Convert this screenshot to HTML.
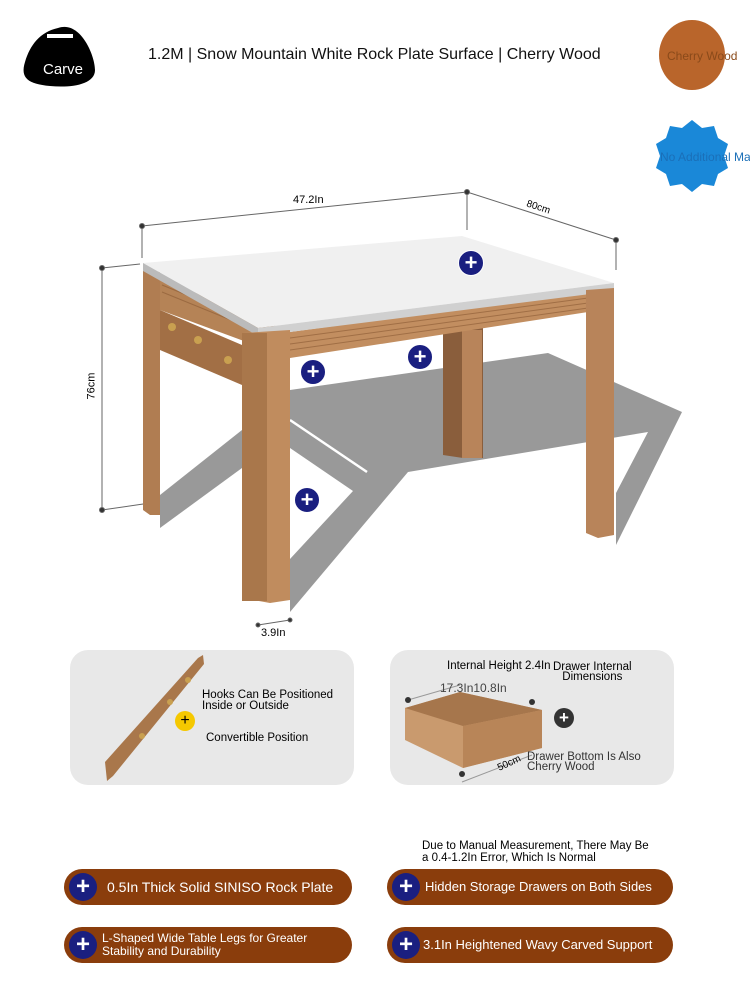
<!DOCTYPE html>
<html><head><meta charset="utf-8"><style>
body{margin:0;width:750px;height:1000px;background:#fff;position:relative;overflow:hidden;font-family:"Liberation Sans",sans-serif}
.t{position:absolute;white-space:nowrap}
.card{position:absolute;background:#e8e8e8;border-radius:18px}
.pill{position:absolute;height:36px;border-radius:18px;background:#8a3d0c;color:#fff}
.pill .p{position:absolute;left:5px;top:4px;width:28px;height:28px;border-radius:50%;background:#1a1f80;color:#fff;font-size:24px;line-height:27px;text-align:center;font-weight:bold}
.pill .l{position:absolute;left:38px;top:10px;font-size:13px;white-space:nowrap}
.bp{position:absolute;width:24px;height:24px;border-radius:50%;background:#1a1f80;color:#fff;font-size:22px;line-height:23px;text-align:center;font-weight:bold;border:1px solid #fff}
</style></head><body>
<svg width="750" height="1000" style="position:absolute;left:0;top:0">
<path d="M58,28 C80,20 95,55 95,70 C95,85 70,88 50,86 C28,84 20,78 25,62 C30,45 40,32 58,28Z" fill="#000"/>
<rect x="47" y="34" width="26" height="4" fill="#fff"/>
<ellipse cx="692" cy="55" rx="33" ry="35" fill="#b9652b"/>
<path d="M692,120 l10,8 12,-2 4,12 10,6 -4,12 4,12 -10,6 -4,12 -12,-2 -10,8 -10,-8 -12,2 -4,-12 -10,-6 4,-12 -4,-12 10,-6 4,-12 12,2Z" fill="#1a88d8"/>
<!-- shadow -->
<polygon points="290,390 548,353 682,412 616,545 616,493 648,432 408,472 290,612 290,559 353,491 290,448" fill="#999"/>
<line x1="290" y1="420" x2="367" y2="472" stroke="#fff" stroke-width="2.5"/>
<polygon points="160,495 242,430 242,468 160,528" fill="#999"/>
<g stroke="#666" stroke-width="1" fill="#333">
<line x1="142" y1="226" x2="467" y2="192"/><line x1="467" y1="192" x2="616" y2="240"/>
<line x1="142" y1="226" x2="142" y2="258"/><line x1="467" y1="192" x2="467" y2="230"/><line x1="616" y1="240" x2="616" y2="270"/>
<line x1="102" y1="268" x2="102" y2="510"/><line x1="102" y1="268" x2="140" y2="264"/><line x1="102" y1="510" x2="150" y2="503"/>
<line x1="258" y1="625" x2="290" y2="620"/>
<circle cx="142" cy="226" r="2.5"/><circle cx="467" cy="192" r="2.5"/><circle cx="616" cy="240" r="2.5"/><circle cx="102" cy="268" r="2.5"/><circle cx="102" cy="510" r="2.5"/><circle cx="258" cy="625" r="2"/><circle cx="290" cy="620" r="2"/>
</g>
<polygon points="443,330 483,326 483,458 463,458 443,455" fill="#8a5e3c"/>
<rect x="462" y="330" width="20" height="128" fill="#b8845a"/>
<polygon points="143,270 160,272 160,515 150,515 143,510" fill="#b07d52"/>
<polygon points="160,278 290,332 290,358 160,310" fill="#b58356"/>
<polygon points="290,332 588,292 588,312 290,358" fill="#c28e60"/>
<g stroke="#8a5a34" stroke-width="1" opacity=".6">
<line x1="290" y1="338" x2="588" y2="298"/><line x1="290" y1="344" x2="588" y2="303"/><line x1="290" y1="350" x2="588" y2="308"/>
<line x1="162" y1="285" x2="290" y2="337"/><line x1="162" y1="292" x2="290" y2="344"/>
</g>
<polygon points="160,310 242,345 242,385 160,350" fill="#a26f45"/>
<circle cx="172" cy="327" r="4" fill="#c9a050"/><circle cx="198" cy="340" r="4" fill="#c9a050"/><circle cx="228" cy="360" r="4" fill="#c9a050"/>
<polygon points="143,263 462,236 614,283 258,328" fill="#f0f0f0"/>
<polygon points="143,263 258,328 258,336 143,271" fill="#bbb"/>
<polygon points="258,328 614,283 614,291 258,336" fill="#d0d0d0"/>
<polygon points="242,333 290,330 290,600 270,603 242,598" fill="#c08c5e"/>
<rect x="242" y="333" width="25" height="268" fill="#a9774b"/>
<polygon points="586,290 614,288 614,535 598,538 586,533" fill="#b8845a"/>
</svg>
<div class="t" style="left:43px;top:61px;color:#fff;font-size:15px">Carve</div>
<div class="t" style="left:148px;top:46px;font-size:16px;color:#111">1.2M | Snow Mountain White Rock Plate Surface | Cherry Wood</div>
<div class="t" style="left:667px;top:49px;font-size:12px;color:#8a4a1a">Cherry Wood</div>
<div class="t" style="left:660px;top:150px;font-size:12px;color:#1a6fb8">No Additional Ma</div>
<div class="t" style="left:293px;top:194px;font-size:11px">47.2In</div>
<div class="t" style="left:526px;top:202px;font-size:10px;transform:rotate(18deg)">80cm</div>
<div class="t" style="left:78px;top:380px;font-size:11px;transform:rotate(-90deg)">76cm</div>
<div class="t" style="left:261px;top:627px;font-size:11px">3.9In</div>
<div class="bp" style="left:458px;top:250px">+</div>
<div class="bp" style="left:300px;top:359px">+</div>
<div class="bp" style="left:407px;top:344px">+</div>
<div class="bp" style="left:294px;top:487px">+</div>

<div class="card" style="left:70px;top:650px;width:284px;height:135px">
<svg width="284" height="135" style="position:absolute;left:0;top:0"><polygon points="35,112 128,8 133,5 134,14 43,126 37,131" fill="#a9774b"/><circle cx="118" cy="30" r="3" fill="#c9a050"/><circle cx="100" cy="52" r="3" fill="#c9a050"/><circle cx="72" cy="86" r="3" fill="#c9a050"/></svg>
<div style="position:absolute;left:105px;top:61px;width:20px;height:20px;border-radius:50%;background:#f5c800;font-size:16px;line-height:19px;text-align:center">+</div>
<div class="t" style="left:132px;top:40px;font-size:11.5px;line-height:11px">Hooks Can Be Positioned<br>Inside or Outside</div>
<div class="t" style="left:136px;top:82px;font-size:11.5px">Convertible Position</div>
</div>
<div class="card" style="left:390px;top:650px;width:284px;height:135px">
<svg width="284" height="135" style="position:absolute;left:0;top:0"><polygon points="15,58 70,42 152,60 152,98 73,118 15,90" fill="#c99a6e"/><polygon points="15,58 70,42 152,60 73,76" fill="#a6764c"/><polygon points="73,76 152,60 152,98 73,118" fill="#b88558"/><line x1="18" y1="50" x2="70" y2="35" stroke="#999"/><line x1="72" y1="132" x2="142" y2="105" stroke="#999"/><circle cx="18" cy="50" r="3" fill="#333"/><circle cx="142" cy="52" r="3" fill="#333"/><circle cx="72" cy="124" r="3" fill="#333"/></svg>
<div style="position:absolute;left:164px;top:58px;width:20px;height:20px;border-radius:50%;background:#333;color:#fff;font-size:17px;line-height:19px;text-align:center;font-weight:bold">+</div>
<div class="t" style="left:57px;top:10px;font-size:11.5px">Internal Height 2.4In</div>
<div class="t" style="left:163px;top:12px;font-size:11.5px;line-height:10px;text-align:center">Drawer Internal<br>Dimensions</div>
<div class="t" style="left:50px;top:31px;font-size:12px;color:#444">17.3In10.8In</div>
<div class="t" style="left:107px;top:108px;font-size:10px;transform:rotate(-25deg)">50cm</div>
<div class="t" style="left:137px;top:102px;font-size:11.5px;line-height:10px;color:#333">Drawer Bottom Is Also<br>Cherry Wood</div>
</div>

<div class="t" style="left:422px;top:840px;font-size:11.5px;line-height:12px">Due to Manual Measurement, There May Be<br>a 0.4-1.2In Error, Which Is Normal</div>
<div class="pill" style="left:64px;top:869px;width:288px"><div class="p">+</div><div class="l" style="left:43px;font-size:14px;top:10px">0.5In Thick Solid SINISO Rock Plate</div></div>
<div class="pill" style="left:387px;top:869px;width:286px"><div class="p">+</div><div class="l">Hidden Storage Drawers on Both Sides</div></div>
<div class="pill" style="left:64px;top:927px;width:288px"><div class="p">+</div><div class="l" style="top:5px;font-size:12px;line-height:13px">L-Shaped Wide Table Legs for Greater<br>Stability and Durability</div></div>
<div class="pill" style="left:387px;top:927px;width:286px"><div class="p">+</div><div class="l" style="left:36px">3.1In Heightened Wavy Carved Support</div></div>
</body></html>
